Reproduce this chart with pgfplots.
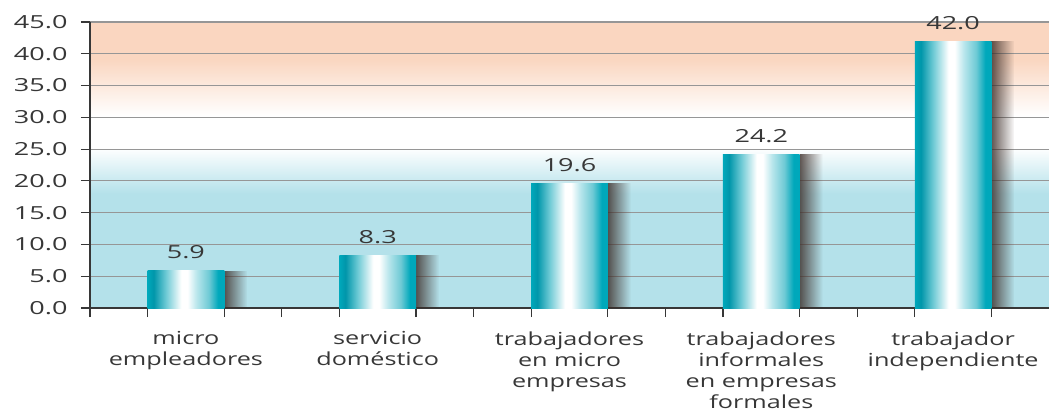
\documentclass[border=0pt]{standalone}
\usepackage{pgfplots}
\pgfplotsset{compat=1.18}
\usepackage{fontspec}
\setmainfont{Open Sans}[FakeStretch=1.4]
\newfontfamily\tickfont{Open Sans}[FakeStretch=1.5]
\usetikzlibrary{fadings}
\definecolor{bgblue}{RGB}{180,225,234}
\definecolor{bgpeach}{RGB}{250,214,192}
\definecolor{tealA}{RGB}{0,168,187}
\definecolor{tealD}{RGB}{0,150,170}
\definecolor{tealL}{RGB}{110,202,213}
\definecolor{tealXL}{RGB}{185,230,236}
\definecolor{txt}{RGB}{55,55,55}
\definecolor{gridc}{RGB}{150,150,150}
\definecolor{shadowc}{RGB}{60,45,40}
\pgfdeclareverticalshading{bgshade}{100bp}{color(0bp)=(bgblue); color(45bp)=(bgblue); color(53bp)=(white); color(58.6bp)=(white); color(68.5bp)=(bgpeach); color(100bp)=(bgpeach)}
\pgfdeclarehorizontalshading{barshade}{100bp}{color(0bp)=(tealA); color(25bp)=(tealA); color(29bp)=(tealD); color(37bp)=(tealL); color(47bp)=(white); color(51bp)=(white); color(57bp)=(tealXL); color(65bp)=(tealL); color(71bp)=(tealA); color(75bp)=(tealA); color(100bp)=(tealA)}
\pgfplotsset{
  shadowbar/.style={ybar, bar width=0.12, bar shift=0.26, draw=none, fill=shadowc, fill opacity=0.8, path fading=east},
  mainbar/.style={ybar, bar width=0.4, bar shift=0, draw=none, shade, shading=barshade,
    nodes near coords, nodes near coords style={font=\tickfont\fontsize{18}{22}\selectfont, text=txt, yshift=8pt}},
}
\begin{document}
\begin{tikzpicture}
\begin{axis}[
  at={(0,0)}, anchor=south west,
  scale only axis, width=959pt, height=286pt,
  xmin=-0.5, xmax=4.5, ymin=0, ymax=45,
  axis x line*=bottom, axis y line*=left,
  axis line style={draw=txt, line width=1.6pt},
  axis background/.style={shade, shading=bgshade},
  ytick={0,5,...,45},
  ymajorgrids, grid style={gridc, line width=1.2pt},
  tick align=outside, major tick length=9pt,
  tick style={draw=txt, line width=1.2pt},
  xtick={-0.5,-0.2,0.2,0.5,0.8,1.2,1.5,1.8,2.2,2.5,2.8,3.2,3.5,3.8,4.2},
  xticklabels={},
  extra x ticks={0,1,2,3,4},
  extra x tick labels={{micro\\empleadores},{servicio\\doméstico},{trabajadores\\en micro\\empresas},{trabajadores\\informales\\en empresas\\formales},{trabajador\\independiente}},
  extra x tick style={tick style={draw=none}, xticklabel style={align=center, font=\fontsize{18}{21}\selectfont, text=txt, anchor=north, yshift=-11pt}},
  yticklabel style={font=\tickfont\fontsize{18}{22}\selectfont, text=txt, xshift=-10pt},
  /pgf/number format/.cd, fixed, fixed zerofill, precision=1, assume math mode=true
]
\addplot[shadowbar] coordinates {(0,5.9)};
\addplot[shadowbar] coordinates {(1,8.3)};
\addplot[shadowbar] coordinates {(2,19.6)};
\addplot[shadowbar] coordinates {(3,24.2)};
\addplot[shadowbar] coordinates {(4,42.0)};
\addplot[mainbar] coordinates {(0,5.9)};
\addplot[mainbar] coordinates {(1,8.3)};
\addplot[mainbar] coordinates {(2,19.6)};
\addplot[mainbar] coordinates {(3,24.2)};
\addplot[mainbar] coordinates {(4,42.0)};
\end{axis}
\pgfresetboundingbox
\path[use as bounding box] (-90pt,-104pt) rectangle (959pt,308pt);
\end{tikzpicture}
\end{document}
